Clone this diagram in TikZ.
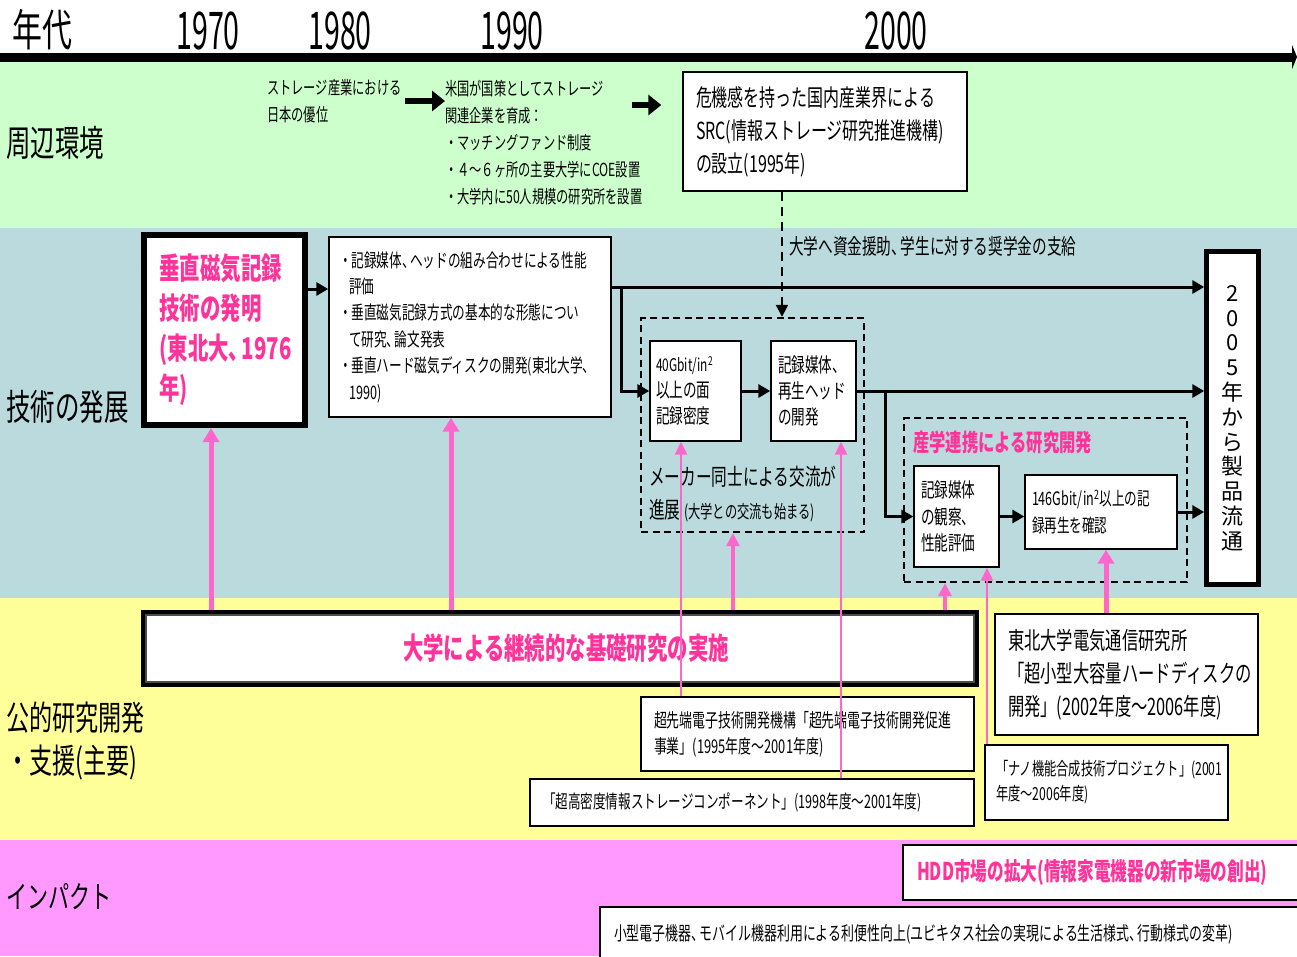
\documentclass[tikz,border=0pt]{standalone}
\usepackage{fontspec}
\usetikzlibrary{arrows.meta,calc}
\newfontfamily\jp[FakeStretch=0.68]{Noto Sans CJK JP}
\newfontfamily\jpyr[FakeStretch=0.55]{Noto Sans CJK JP}
\newfontfamily\jpn{Noto Sans CJK JP}
\definecolor{bggreen}{HTML}{CCFFCC}
\definecolor{bgblue}{HTML}{BADADE}
\definecolor{bgyellow}{HTML}{FFFF99}
\definecolor{bgpink}{HTML}{FF99FF}
\definecolor{pkline}{HTML}{FF66CC}
\definecolor{pktext}{HTML}{FF3399}
\newcommand\fs[2]{\fontsize{#1}{#2}\selectfont}
\newcommand\tc{、\kern-0.25em}
\begin{document}
\begin{tikzpicture}[x=1pt,y=-1pt,
  box/.style={draw=black, line width=1.4pt, fill=white, inner sep=0pt, align=left},
  txt/.style={inner sep=0pt, align=left},
  bk/.style={draw=black, line width=3pt, -{Triangle[length=12pt,width=13pt]}},
  bkbig/.style={draw=black, line width=6pt, -{Triangle[length=13pt,width=20pt]}},
  dbox/.style={draw=black, line width=2.4pt, dash pattern=on 7pt off 4.5pt, inner sep=0pt},
  pkA/.style={draw=pkline, line width=5pt, -{Triangle[length=14pt,width=16pt]}},
  pkB/.style={draw=pkline, line width=3.5pt, -{Triangle[length=13pt,width=13pt]}},
  pkC/.style={draw=pkline, line width=2.2pt, -{Triangle[length=13pt,width=12pt]}},
  dl/.style={draw=black, line width=2.2pt, dash pattern=on 9pt off 6pt, -{Triangle[length=12pt,width=12pt]}},
  pkbold/.style={text=pktext, font=\jp\bfseries}
]
\useasboundingbox (0,0) rectangle (1297,956);
\begin{scope}
\clip (0,0) rectangle (1297,956);
% bands
\fill[white] (0,0) rectangle (1297,62);
\fill[bggreen] (0,62) rectangle (1297,228);
\fill[bgblue] (0,228) rectangle (1297,598);
\fill[bgyellow] (0,598) rectangle (1297,840);
\fill[bgpink] (0,840) rectangle (1297,956);

% header
\coordinate (ax0) at (0,57);
\coordinate (ax1) at (1297,57);
\draw[line width=9pt, -{Triangle[length=5pt,width=24pt]}] (ax0) -- (ax1);
\node[txt, anchor=west, font=\jp\fs{44}{44}] (nendai) at (12,30) {年代};
\node[txt, font=\jpyr\fs{52}{52}] (y70) at (208,31) {1970};
\node[txt, font=\jpyr\fs{52}{52}] (y80) at (340,31) {1980};
\node[txt, font=\jpyr\fs{52}{52}] (y90) at (512,31) {1990};
\node[txt, font=\jpyr\fs{52}{52}] (y00) at (896,31) {2000};

% left labels
\node[txt, anchor=west, font=\jp\fs{36}{36}] (l1) at (6,143) {周辺環境};
\node[txt, anchor=west, font=\jp\fs{36}{36}] (l2) at (6,407) {技術の発展};
\node[txt, anchor=west, font=\jp\fs{34}{43}] (l3) at (6,741) {公的研究開発\\・支援(主要)};
\node[txt, anchor=west, font=\jp\fs{31}{31}] (l4) at (6,897) {インパクト};

% green band
\node[txt, anchor=west, font=\jp\fs{18}{27}] (jpadv) at (267,101.5) {ストレージ産業における\\日本の優位};
\node[txt, anchor=west, font=\jp\fs{18}{27}] (us) at (445,142.5) {米国が国策としてストレージ\\関連企業を育成：\\・マッチングファンド制度\\・４～６ヶ所の主要大学にCOE設置\\・大学内に50人規模の研究所を設置};
\node[box, minimum width=284pt, minimum height=119pt, text width=258pt, font=\jp\fs{23.5}{33}] (src) at (825,131.5) {危機感を持った国内産業界による\\SRC(情報ストレージ研究推進機構)\\の設立(1995年)};
\coordinate (ga1) at (405,101);
\coordinate (ga3) at (632,105);
\draw[bkbig] (ga1) -- (us.west |- ga1) ;
\draw[bkbig, shorten >=21pt] (ga3) -- (src.west |- ga3);

% blue band
\node[draw=black, line width=4pt, fill=white, minimum width=163pt, minimum height=192pt, inner sep=0pt, text width=130pt, align=left, pkbold, font=\jp\bfseries\fs{30}{40}] (b1) at (224.5,330) {垂直磁気記録\\技術の発明\\(東北大\tc 1976\\年)};
\draw[line width=1.2pt] ([shift={(5,5)}]b1.north west) rectangle ([shift={(-5,-5)}]b1.south east);
\node[box, minimum width=282pt, minimum height=180pt, text width=262pt, font=\jp\fs{18.6}{26.4}] (b2) at (470,327) {・記録媒体\tc ヘッドの組み合わせによる性能\\\hspace*{10pt}評価\\・垂直磁気記録方式の基本的な形態につい\\\hspace*{10pt}て研究\tc 論文発表\\・垂直ハード磁気ディスクの開発(東北大学\tc\\\hspace*{10pt}1990)};

\node[dbox, minimum width=223pt, minimum height=214pt] (dash1) at (752.5,425) {};
\node[dbox, minimum width=283pt, minimum height=164pt] (dash2) at (1045.5,500) {};

\node[box, minimum width=91pt, minimum height=100pt, text width=79pt, font=\jp\fs{20}{26}] (g40) at (695.5,391) {{\fs{17.5}{26}40Gbit/in\textsuperscript{2}}\\以上の面\\記録密度};
\node[box, minimum width=85pt, minimum height=100pt, text width=71pt, font=\jp\fs{20}{26}] (rec) at (813.5,391) {記録媒体\tc\\再生ヘッド\\の開発};
\node[box, minimum width=85pt, minimum height=101pt, text width=71pt, font=\jp\fs{20}{26.5}] (obs) at (956.5,516.5) {記録媒体\\の観察\tc\\性能評価};
\node[box, minimum width=152pt, minimum height=74pt, text width=138pt, font=\jp\fs{18.5}{27}] (c146) at (1101,512) {146Gbit/in\textsuperscript{2}以上の記\\録再生を確認};

\node[draw=black, line width=3.5pt, fill=white, minimum width=53pt, minimum height=334pt, inner sep=0pt, align=center, font=\jpn\fs{22}{24.8}] (prod) at (1232.5,418) {2\\0\\0\\5\\年\\か\\ら\\製\\品\\流\\通};
\draw[line width=1.2pt] ([shift={(4,4)}]prod.north west) rectangle ([shift={(-4,-4)}]prod.south east);

\node[txt, anchor=west, font=\jp\fs{23}{33}] (maker) at (649,494.5) {メーカー同士による交流が\\進展\,{\fs{18}{33}(大学との交流も始まる)}};
\node[txt, anchor=west, pkbold, font=\jp\bfseries\fs{24}{24}] (sangaku) at (913,442) {産学連携による研究開発};
\node[txt, anchor=west, font=\jp\fs{21.5}{22}] (fund) at (789,246) {大学へ資金援助\tc 学生に対する奨学金の支給};

\coordinate (y289) at (0,289);
\coordinate (y287) at (0,287);
\coordinate (br1) at (621,287);
\coordinate (br2) at (885,391);
\coordinate (xs) at (782,0);
\draw[bk] (b1.east |- y289) -- (b2.west |- y289);
\draw[bk] (b2.east |- y287) -- (prod.west |- y287);
\draw[bk] (br1) |- (g40.west);
\draw[bk] (g40.east) -- (rec.west);
\draw[bk] (rec.east) -- (prod.west |- rec.east);
\draw[bk] (br2) |- (obs.west);
\draw[bk] (obs.east) -- (c146.west |- obs.east);
\draw[bk] (c146.east) -- (prod.west |- c146.east);
\draw[dl] (src.south -| xs) -- (dash1.north -| xs);

% yellow band
\node[draw=black, line width=4pt, fill=white, minimum width=834pt, minimum height=73pt, inner sep=0pt, pkbold, font=\jp\bfseries\fs{30}{30}] (univ) at (560,648.5) {\hspace*{12pt}大学による継続的な基礎研究の実施};
\draw[line width=1.2pt, draw=black!70] ([shift={(5,5)}]univ.north west) rectangle ([shift={(-5,-5)}]univ.south east);
\node[box, minimum width=263pt, minimum height=121pt, text width=237pt, font=\jp\fs{24}{33}] (tohoku) at (1126.5,674.5) {東北大学電気通信研究所\\「超小型大容量ハードディスクの\\開発」(2002年度～2006年度)};
\node[box, minimum width=243pt, minimum height=75pt, text width=221pt, font=\jp\fs{18}{25}] (nano) at (1106.5,782.5) {「ナノ機能合成技術プロジェクト」(2001\\年度～2006年度)};
\node[box, minimum width=333pt, minimum height=74pt, text width=307pt, font=\jp\fs{19}{26}] (sen) at (807.5,734) {超先端電子技術開発機構「超先端電子技術開発促進\\事業」(1995年度～2001年度)};
\node[box, minimum width=444pt, minimum height=47pt, text width=418pt, font=\jp\fs{18.5}{24}] (kou) at (752,802.5) {「超高密度情報ストレージコンポーネント」(1998年度～2001年度)};

% pink arrows
\coordinate (xa) at (211,0);
\coordinate (xb) at (451,0);
\coordinate (xc) at (681,0);
\coordinate (xd) at (841,0);
\coordinate (xe) at (733,0);
\coordinate (xf) at (945,0);
\coordinate (xg) at (987,0);
\coordinate (xh) at (1106,0);
\draw[pkA] (univ.north -| xa) -- (b1.south -| xa);
\draw[pkA] (univ.north -| xb) -- (b2.south -| xb);
\draw[pkC] (sen.north -| xc) -- (g40.south -| xc);
\draw[pkC] (kou.north -| xd) -- (rec.south -| xd);
\draw[pkB] (univ.north -| xe) -- (dash1.south -| xe);
\draw[pkB] (univ.north -| xf) -- (dash2.south -| xf);
\draw[pkC] (nano.north -| xg) -- (obs.south -| xg);
\draw[pkA] (tohoku.north -| xh) -- (c146.south -| xh);

% pink band
\node[draw=black, line width=2.8pt, fill=white, minimum width=407pt, minimum height=55pt, inner sep=0pt, text width=379pt, align=left, pkbold, font=\jp\bfseries\fs{24.5}{24}] (hdd) at (1106.5,872.5) {HDD市場の拡大(情報家電機器の新市場の創出)};
\node[box, line width=2pt, minimum width=710pt, minimum height=55pt, text width=682pt, font=\jp\fs{19}{18}] (kogata) at (955,934.5) {小型電子機器\tc モバイル機器利用による利便性向上(ユビキタス社会の実現による生活様式\tc 行動様式の変革)};
\end{scope}
\end{tikzpicture}
\end{document}
